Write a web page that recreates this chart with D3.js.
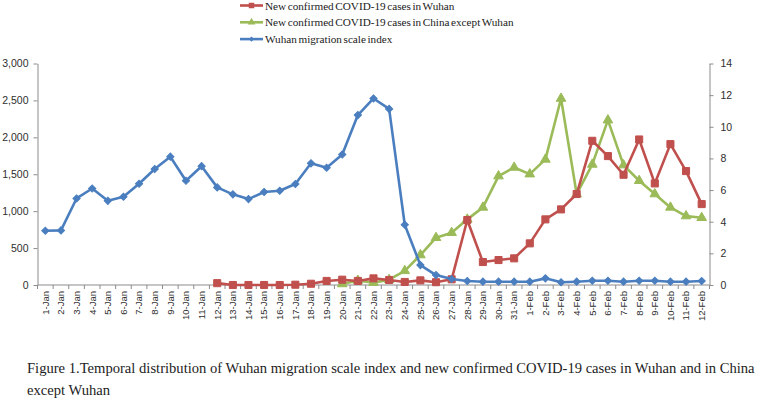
<!DOCTYPE html>
<html>
<head>
<meta charset="utf-8">
<script src="https://cdn.jsdelivr.net/npm/d3@7"></script>
<style>
  body { margin: 0; background: #fff; }
</style>
</head>
<body>
<script>
// ---- data ----
const dates = ["1-Jan","2-Jan","3-Jan","4-Jan","5-Jan","6-Jan","7-Jan","8-Jan","9-Jan","10-Jan",
  "11-Jan","12-Jan","13-Jan","14-Jan","15-Jan","16-Jan","17-Jan","18-Jan","19-Jan","20-Jan",
  "21-Jan","22-Jan","23-Jan","24-Jan","25-Jan","26-Jan","27-Jan","28-Jan","29-Jan","30-Jan",
  "31-Jan","1-Feb","2-Feb","3-Feb","4-Feb","5-Feb","6-Feb","7-Feb","8-Feb","9-Feb",
  "10-Feb","11-Feb","12-Feb"];

// new confirmed cases in Wuhan (left axis), reported from 12-Jan
const wuhanCases = [null,null,null,null,null,null,null,null,null,null,null,
  25,0,0,0,0,4,17,55,72,55,90,68,41,63,38,77,880,311,338,361,
  564,889,1024,1232,1953,1746,1493,1971,1376,1908,1543,1096];

// new confirmed cases in China except Wuhan (left axis), from 20-Jan
const chinaExWuhan = [null,null,null,null,null,null,null,null,null,null,null,
  null,null,null,null,null,null,null,null,
  14,60,32,72,192,406,640,708,889,1051,1475,1592,
  1502,1701,2526,1232,1633,2233,1624,1412,1232,1051,934,911];

// Wuhan migration scale index (right axis)
const migrationIndex = [3.43,3.45,5.47,6.10,5.32,5.58,6.40,7.33,8.11,6.59,
  7.51,6.17,5.73,5.43,5.88,5.96,6.38,7.69,7.41,8.25,
  10.74,11.79,11.13,3.81,1.26,0.63,0.38,0.25,0.21,0.21,0.21,
  0.21,0.42,0.17,0.21,0.27,0.27,0.21,0.27,0.27,0.21,0.21,0.25];

const leftTicks = [0, 500, 1000, 1500, 2000, 2500, 3000];
const rightTicks = [0, 2, 4, 6, 8, 10, 12, 14];

const legendLabels = ["New confirmed COVID-19 cases in Wuhan",
  "New confirmed COVID-19 cases in China except Wuhan",
  "Wuhan migration scale index"];

const captionLines = ["Figure 1.Temporal distribution of Wuhan migration scale index and new confirmed COVID-19 cases in Wuhan and in China",
  "except Wuhan"];

// ---- drawing ----
const W = 760, H = 402;
const plotL = 37.5, plotR = 709.5, plotT = 63.5, plotB = 285;

const svg = d3.select("body").append("svg")
  .attr("width", W)
  .attr("height", H);

const x = d3.scaleBand().domain(dates).range([plotL, plotR]);
const yL = d3.scaleLinear().domain([0, 3000]).range([plotB, plotT]);
const yR = d3.scaleLinear().domain([0, 14]).range([plotB, plotT]);
const cx = d => x(d) + x.bandwidth() / 2;

const axisColor = "#8c8c8c";
const labelColor = "#2e2e2e";

// left axis
const gl = svg.append("g")
  .attr("transform", `translate(${plotL},0)`)
  .call(d3.axisLeft(yL).tickValues(leftTicks).tickFormat(d3.format(","))
    .tickSize(4).tickSizeOuter(0).tickPadding(5));

// right axis
const gr = svg.append("g")
  .attr("transform", `translate(${plotR},0)`)
  .call(d3.axisRight(yR).tickValues(rightTicks)
    .tickSize(4).tickSizeOuter(0).tickPadding(7));

[gl, gr].forEach(g => {
  g.select(".domain").attr("stroke", axisColor);
  g.selectAll(".tick line").attr("stroke", axisColor);
  g.selectAll(".tick text")
    .attr("fill", labelColor)
    .style("font-family", "'Liberation Sans', Arial, sans-serif")
    .style("font-size", "10.5px");
});

// x axis: line, boundary ticks and rotated labels
const gx = svg.append("g");
gx.append("line")
  .attr("x1", plotL).attr("x2", plotR)
  .attr("y1", plotB).attr("y2", plotB)
  .attr("stroke", axisColor);

gx.selectAll("line.tk")
  .data(dates.map(d => x(d)).concat([plotR]))
  .join("line")
  .attr("class", "tk")
  .attr("x1", d => d).attr("x2", d => d)
  .attr("y1", plotB).attr("y2", plotB + 4)
  .attr("stroke", axisColor);

gx.selectAll("text")
  .data(dates)
  .join("text")
  .attr("transform", d => `translate(${cx(d)},${plotB + 6}) rotate(-90)`)
  .attr("text-anchor", "end")
  .attr("dy", "0.35em")
  .attr("fill", labelColor)
  .style("font-family", "'Liberation Sans', Arial, sans-serif")
  .style("font-size", "9.5px")
  .text(d => d);

// series
const red = "#c0504d", green = "#9bbb59", blue = "#4a7ebf";

const sym = {
  square: d3.symbol().type(d3.symbolSquare).size(50),
  triangle: d3.symbol().type(d3.symbolTriangle).size(40),
  diamond: d3.symbol().type(d3.symbolSquare).size(26)
};

function drawSeries(values, scale, color, shape) {
  const pts = dates.map((d, i) => ({ d: d, v: values[i] }));
  const line = d3.line()
    .defined(p => p.v != null)
    .x(p => cx(p.d))
    .y(p => scale(p.v));

  svg.append("path")
    .attr("d", line(pts))
    .attr("fill", "none")
    .attr("stroke", color)
    .attr("stroke-width", 2.6)
    .attr("stroke-linejoin", "round");

  svg.append("g").selectAll("path")
    .data(pts.filter(p => p.v != null))
    .join("path")
    .attr("d", sym[shape])
    .attr("transform", p => `translate(${cx(p.d)},${scale(p.v)})` +
      (shape === "diamond" ? " rotate(45)" : ""))
    .attr("fill", color)
    .attr("stroke", color)
    .attr("stroke-width", 1);
}

drawSeries(chinaExWuhan, yL, green, "triangle");
drawSeries(wuhanCases, yL, red, "square");
drawSeries(migrationIndex, yR, blue, "diamond");

// legend
const legendColors = [red, green, blue];
const lg = svg.append("g");
legendLabels.forEach((t, i) => {
  const y = 5.5 + i * 16.8;
  lg.append("line")
    .attr("x1", 240).attr("x2", 263)
    .attr("y1", y).attr("y2", y)
    .attr("stroke", legendColors[i])
    .attr("stroke-width", 2.6);
  lg.append("path")
    .attr("d", d3.symbol().type(i === 1 ? d3.symbolTriangle : d3.symbolSquare)
      .size(i === 0 ? 30 : i === 1 ? 26 : 14)())
    .attr("transform", `translate(251.5,${y})` + (i === 2 ? " rotate(45)" : ""))
    .attr("fill", legendColors[i]);
  lg.append("text")
    .attr("x", 265)
    .attr("y", y + 4)
    .attr("fill", "#1a1a1a")
    .style("font-family", "'Liberation Serif', 'Times New Roman', serif")
    .style("font-size", "11.2px")
    .style("word-spacing", "-1.2px")
    .text(t);
});

// caption
svg.selectAll("text.caption")
  .data(captionLines)
  .join("text")
  .attr("class", "caption")
  .attr("x", 27)
  .attr("y", (d, i) => 373 + i * 22)
  .attr("fill", "#222")
  .style("font-family", "'Liberation Serif', 'Times New Roman', serif")
  .style("font-size", "14.6px")
  .text(d => d);
</script>
</body>
</html>
